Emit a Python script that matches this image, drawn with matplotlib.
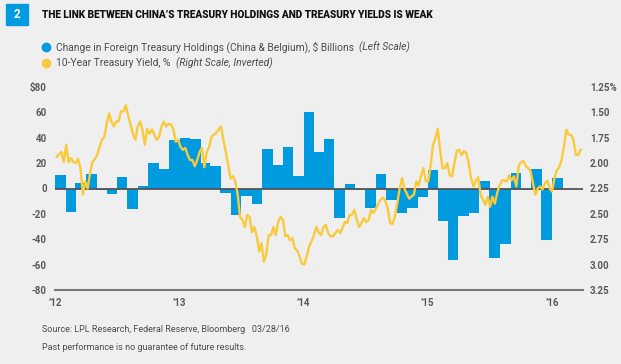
import numpy as np
import pandas as pd
import matplotlib
matplotlib.use('Agg')
import matplotlib.pyplot as plt
from matplotlib.patches import Rectangle
from matplotlib.lines import Line2D


BLUE = '#009ADE'
YELLOW = '#F8CA3C'
BG = '#EFEFEF'
TEXT = '#4D4D4F'
AXIS = '#58595B'

# monthly change in foreign treasury holdings (China & Belgium), $ billions
holdings = [10.5, -18.4, 4.7, 11.8, -1.0, -4.7, 9.4, -16.0, 1.6, 19.9, 15.0, 38.0,
            40.0, 39.0, 20.0, 17.5, -3.4, -20.8, -5.8, -12.6, 31.0, 18.3, 32.5, 9.7,
            60.0, 29.0, 39.3, -23.6, 3.6, -1.0, -15.3, 11.8, -9.0, -19.2, -15.3, -6.8,
            14.4, -25.5, -56.3, -21.6, -19.5, 5.7, -55.0, -43.6, 12.6, -1.0, 15.0, -40.4,
            7.9]
holding_months = pd.date_range('2012-01-01', periods=len(holdings), freq='MS')

# weekly 10-year treasury yield, %
yields = [1.94, 1.91, 1.89, 1.99, 1.82, 1.99, 1.95, 1.99, 2.00, 1.96, 2.05, 2.31,
          2.18, 2.25, 2.10, 1.99, 1.96, 1.92, 1.84, 1.77, 1.74, 1.61, 1.51, 1.59,
          1.64, 1.59, 1.59, 1.49, 1.49, 1.43, 1.53, 1.62, 1.71, 1.77, 1.64, 1.59,
          1.67, 1.82, 1.66, 1.71, 1.67, 1.72, 1.77, 1.74, 1.64, 1.59, 1.64, 1.61,
          1.62, 1.67, 1.79, 1.77, 1.84, 1.87, 1.85, 1.92, 1.97, 1.97, 2.03, 1.97,
          1.89, 1.85, 2.04, 1.89, 1.84, 1.74, 1.72, 1.70, 1.67, 1.64, 1.77, 1.89,
          2.02, 2.15, 2.13, 2.18, 2.31, 2.53, 2.56, 2.63, 2.51, 2.53, 2.68, 2.63,
          2.72, 2.87, 2.79, 2.97, 2.90, 2.71, 2.71, 2.63, 2.71, 2.58, 2.53, 2.56,
          2.72, 2.71, 2.76, 2.74, 2.84, 2.86, 2.92, 2.99, 3.00, 2.92, 2.82, 2.77,
          2.71, 2.63, 2.68, 2.71, 2.63, 2.61, 2.69, 2.72, 2.72, 2.69, 2.66, 2.69,
          2.64, 2.58, 2.59, 2.51, 2.51, 2.46, 2.56, 2.63, 2.59, 2.54, 2.58, 2.56,
          2.46, 2.49, 2.45, 2.40, 2.36, 2.34, 2.37, 2.45, 2.59, 2.60, 2.53, 2.40,
          2.25, 2.15, 2.25, 2.30, 2.35, 2.33, 2.31, 2.18, 2.22, 2.12, 2.05, 2.18,
          2.18, 2.03, 1.82, 1.76, 1.66, 1.87, 2.05, 2.05, 2.00, 2.12, 2.13, 2.00,
          1.88, 1.87, 1.92, 1.88, 1.90, 2.00, 2.15, 2.23, 2.17, 2.14, 2.31, 2.36,
          2.41, 2.33, 2.43, 2.33, 2.40, 2.29, 2.22, 2.17, 2.17, 2.18, 2.12, 2.17,
          2.13, 2.23, 2.03, 1.99, 1.98, 2.03, 2.05, 2.08, 2.20, 2.31, 2.25, 2.23,
          2.26, 2.20, 2.17, 2.25, 2.28, 2.15, 2.07, 2.04, 1.97, 1.84, 1.67, 1.72,
          1.72, 1.77, 1.92, 1.92, 1.87]
yield_weeks = pd.date_range('2012-01-06', periods=len(yields), freq='W-FRI')

left_ticks = [-80, -60, -40, -20, 0, 20, 40, 60, 80]
left_labels = ['-80', '-60', '-40', '-20', '0', '20', '40', '60', '$80']
right_ticks = [1.25, 1.50, 1.75, 2.00, 2.25, 2.50, 2.75, 3.00, 3.25]
right_labels = ['1.25%', '1.50', '1.75', '2.00', '2.25', '2.50', '2.75', '3.00', '3.25']
year_ticks = pd.to_datetime(['2012-01-01', '2013-01-01', '2014-01-01', '2015-01-01', '2016-01-01'])
year_labels = ['\u201912', '\u201913', '\u201914', '\u201915', '\u201916']

plt.rcParams['font.family'] = ['Roboto', 'DejaVu Sans']

W, H = 621, 364
fig = plt.figure(figsize=(W / 100, H / 100), dpi=100, facecolor=BG)

ax = fig.add_axes([55 / W, 1 - 290 / H, (583 - 55) / W, (290 - 87) / H])
ax.set_facecolor(BG)
ax.bar(holding_months, holdings, width=31, align='edge', color=BLUE, zorder=2)
ax.axhline(0, color='#555555', lw=1.3, zorder=3)
ax.set_ylim(-80, 80)
ax.set_xlim(pd.Timestamp('2012-01-01'), pd.Timestamp('2016-04-01'))
ax.set_yticks(left_ticks)
ax.set_yticklabels(left_labels)
ax.set_xticks(year_ticks)
ax.set_xticklabels(year_labels)
ax.tick_params(axis='both', length=0, labelsize=7, labelcolor=AXIS)
ax.tick_params(axis='y', pad=6)
ax.tick_params(axis='x', pad=6)
for side in ['top', 'left', 'right']:
    ax.spines[side].set_visible(False)
ax.spines['bottom'].set_color('#77787B')
ax.spines['bottom'].set_linewidth(1.5)

ax2 = ax.twinx()
ax2.plot(yield_weeks, yields, color=YELLOW, lw=1.7, zorder=4)
ax2.set_ylim(3.25, 1.25)
ax2.set_yticks(right_ticks)
ax2.set_yticklabels(right_labels)
ax2.tick_params(axis='y', length=0, labelsize=7, labelcolor=AXIS, pad=5)
for side in ax2.spines:
    ax2.spines[side].set_visible(False)
for lab in ax.get_yticklabels() + ax.get_xticklabels() + ax2.get_yticklabels():
    lab.set_fontweight('bold')

# header
fig.patches.append(Rectangle((6 / W, 1 - 25 / H), 22 / W, 21 / H, transform=fig.transFigure,
                             color=BLUE, zorder=1))
fig.text(17 / W, 1 - 14.5 / H, '2', color='white', fontsize=8.5, fontweight='bold',
         ha='center', va='center', zorder=10)
fig.text(42 / W, 1 - 15 / H, 'THE LINK BETWEEN CHINA\u2019S TREASURY HOLDINGS AND TREASURY YIELDS IS WEAK',
         color='#111111', fontsize=7.3, fontweight='black', ha='left', va='center')

# legend
renderer = fig.canvas.get_renderer()
legend_rows = [
    (BLUE, 47, 'Change in Foreign Treasury Holdings (China & Belgium), $ Billions  ', '(Left Scale)'),
    (YELLOW, 63, '10-Year Treasury Yield, %  ', '(Right Scale, Inverted)'),
]
for color, ypix, main, note in legend_rows:
    fig.add_artist(Line2D([46 / W], [1 - ypix / H], marker='o', markersize=6, color=color,
                          transform=fig.transFigure))
    t = fig.text(56 / W, 1 - ypix / H, main, color=TEXT, fontsize=7.4, ha='left', va='center')
    bb = t.get_window_extent(renderer=renderer)
    fig.text(bb.x1 / W, 1 - ypix / H, note, color=TEXT, fontsize=7.4, style='italic',
             ha='left', va='center')

# footer
fig.text(42 / W, 1 - 329 / H, 'Source: LPL Research, Federal Reserve, Bloomberg   03/28/16',
         color=TEXT, fontsize=6.5, ha='left', va='center')
fig.text(42 / W, 1 - 348 / H, 'Past performance is no guarantee of future results.',
         color=TEXT, fontsize=6.5, ha='left', va='center')

fig.savefig('out.png', dpi=100, facecolor=BG)
